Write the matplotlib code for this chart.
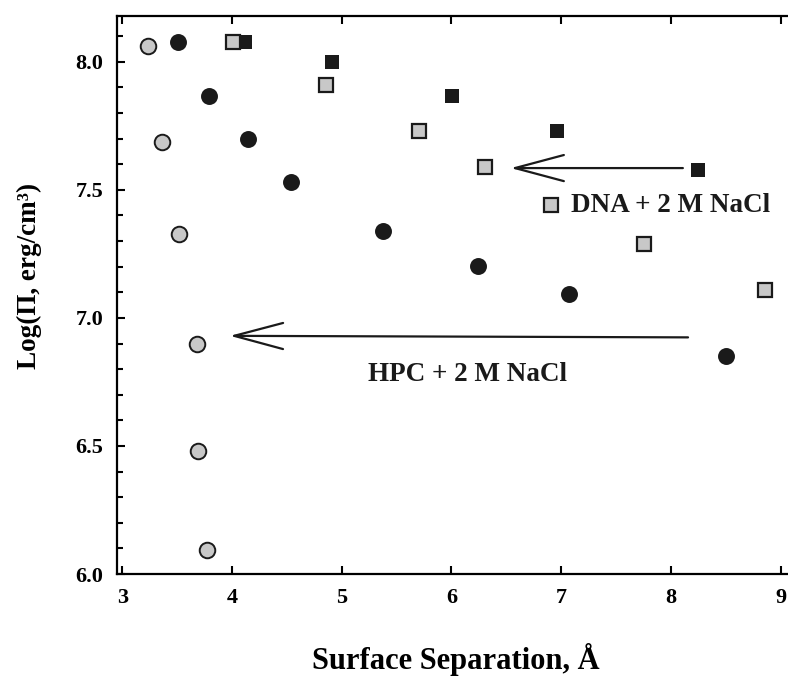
import matplotlib
matplotlib.use("Agg")
import matplotlib.pyplot as plt
from matplotlib.ticker import MultipleLocator, FormatStrFormatter

# Datos
hpc_x = [3.23, 3.36, 3.52, 3.68, 3.69, 3.77]
hpc_y = [8.06, 7.687, 7.327, 6.898, 6.479, 6.094]

hpc_sal_x = [3.51, 3.79, 4.146, 4.54, 5.38, 6.245, 7.075, 8.50]
hpc_sal_y = [8.076, 7.866, 7.70, 7.529, 7.34, 7.204, 7.094, 6.853]

dna_x = [4.12, 4.91, 6.005, 6.96, 8.25]
dna_y = [8.076, 8.0, 7.868, 7.729, 7.578]

dna_sal_x = [4.005, 4.86, 5.70, 6.31, 7.76, 8.86]
dna_sal_y = [8.076, 7.91, 7.729, 7.59, 7.29, 7.11]

# Flechas: (cola, punta)
flecha_dna = [(8.11, 7.585), (6.54, 7.585)]
flecha_hpc = [(8.157, 6.924), (3.98, 6.93)]

etiqueta_dna = "DNA + 2 M NaCl"
etiqueta_hpc = "HPC + 2 M NaCl"

gris = "#c8c8c8"
negro = "#1a1a1a"

plt.rcParams["font.family"] = "Liberation Serif"
plt.rcParams["font.weight"] = "bold"
plt.rcParams["axes.labelweight"] = "bold"

fig = plt.figure(figsize=(7.88, 6.79), dpi=100)
ax = fig.add_axes([0.149, 0.1546, 0.86, 0.8223])

ax.plot(hpc_sal_x, hpc_sal_y, "o", color=negro, markersize=12.2, markeredgewidth=0)
ax.plot(dna_x, dna_y, "s", color=negro, markersize=9.8, markeredgewidth=0)
ax.plot(dna_sal_x, dna_sal_y, "s", markerfacecolor=gris, markeredgecolor=negro,
        markersize=9.6, markeredgewidth=1.6)
ax.plot(hpc_x, hpc_y, "o", markerfacecolor=gris, markeredgecolor=negro,
        markersize=11.2, markeredgewidth=1.4)

# Flechas
for cola, punta in [flecha_dna, flecha_hpc]:
    ax.annotate("", xy=punta, xytext=cola,
                arrowprops=dict(arrowstyle="->,head_length=1.76,head_width=0.47",
                                mutation_scale=20, lw=1.6, color=negro,
                                shrinkA=0, shrinkB=0))

# Etiquetas
ax.plot([6.91], [7.44], "s", markerfacecolor=gris, markeredgecolor=negro,
        markersize=9.6, markeredgewidth=1.6)
ax.text(8.0, 7.44, etiqueta_dna, fontsize=19.5, ha="center", va="center", color=negro)
ax.text(6.145, 6.78, etiqueta_hpc, fontsize=19.5, ha="center", va="center", color=negro)

ax.set_xlim(2.955, 9.133)
ax.set_ylim(6.0, 8.18)
ax.xaxis.set_major_locator(MultipleLocator(1))
ax.yaxis.set_major_locator(MultipleLocator(0.5))
ax.yaxis.set_minor_locator(MultipleLocator(0.1))
ax.yaxis.set_major_formatter(FormatStrFormatter("%.1f"))

ax.tick_params(which="both", direction="in", top=True, right=False,
               width=1.5, labelsize=16, pad=10)
ax.tick_params(which="major", length=5.5)
ax.tick_params(which="minor", length=4.5)
for lado in ["left", "bottom", "top"]:
    ax.spines[lado].set_linewidth(1.6)
ax.spines["right"].set_visible(False)

ax.set_xlabel("Surface Separation, Å", fontsize=22, labelpad=25)
ax.set_ylabel("Log(Π, erg/cm³)", fontsize=19.5)
ax.yaxis.set_label_coords(-0.111, 0.534)

plt.savefig("out.png", dpi=100)
